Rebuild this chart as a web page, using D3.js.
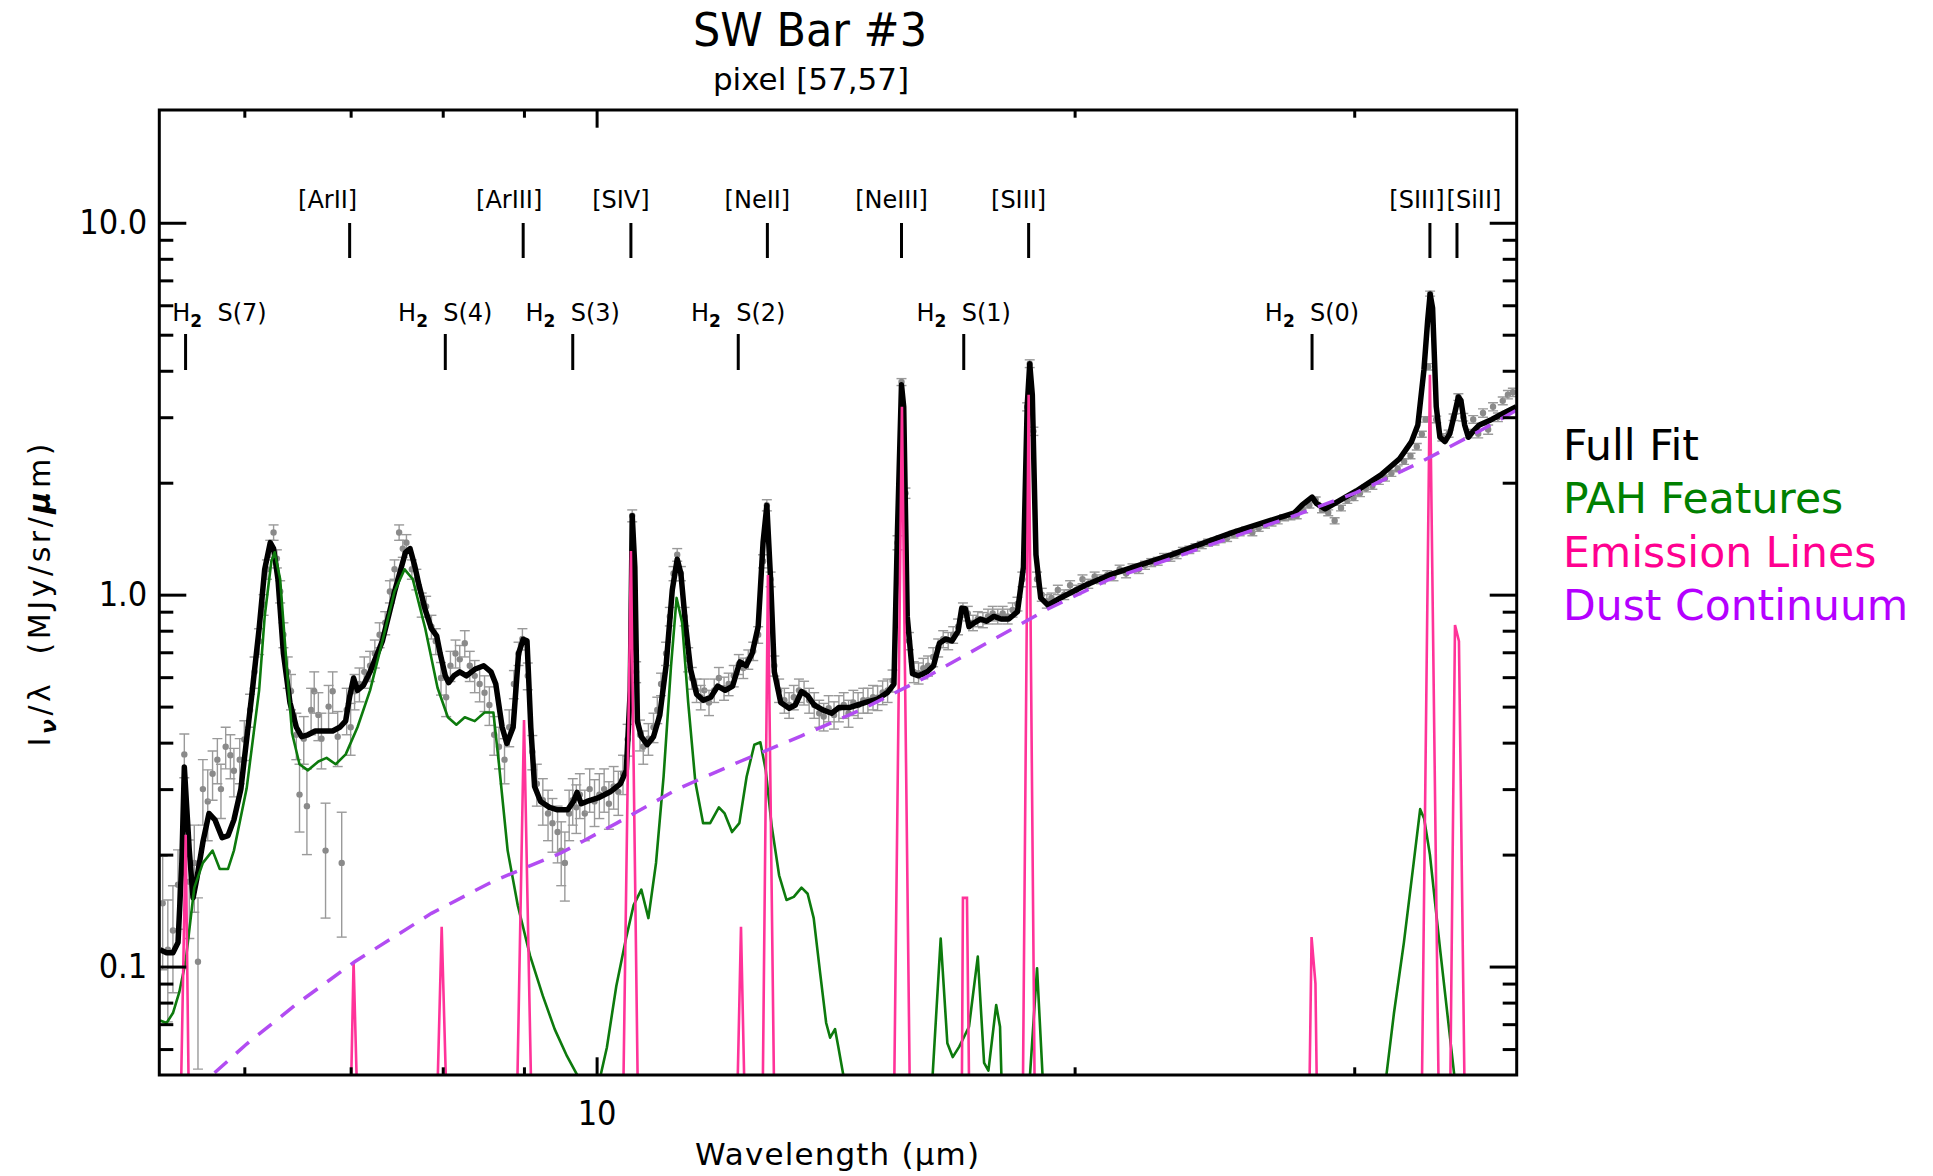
<!DOCTYPE html>
<html>
<head>
<meta charset="utf-8">
<script src="https://cdn.jsdelivr.net/npm/d3@7"></script>
<style>
  body { margin: 0; background: #fff; }
</style>
</head>
<body>
<div id="chart"></div>
<script>
// ---- values (wavelength in micron, I_nu/lambda in MJy/sr/micron) ----

// observed spectrum: [wavelength, flux, error]
const observed = [
  [5.33,0.148,0.05],[5.37,0.111,0.04],[5.41,0.125,0.04],[5.45,0.166,0.04],[5.50,0.372,0.05],[5.54,0.169,0.05],
  [5.58,0.19,0.05],[5.61,0.103,0.05],[5.65,0.30,0.06],[5.69,0.278,0.06],[5.73,0.33,0.05],[5.77,0.36,0.05],
  [5.80,0.30,0.05],[5.84,0.39,0.05],[5.88,0.37,0.05],[5.91,0.336,0.05],[5.96,0.36,0.05],[6.00,0.408,0.05],
  [6.05,0.49,0.05],[6.09,0.62,0.06],[6.13,0.75,0.06],[6.17,0.94,0.06],[6.20,1.17,0.07],[6.23,1.33,0.07],
  [6.26,1.47,0.07],[6.29,1.25,0.07],[6.32,1.02,0.07],[6.35,0.78,0.06],[6.39,0.62,0.06],[6.42,0.55,0.06],
  [6.47,0.42,0.06],[6.50,0.29,0.06],[6.54,0.41,0.06],[6.57,0.27,0.07],[6.61,0.49,0.07],[6.64,0.55,0.07],
  [6.68,0.475,0.07],[6.71,0.41,0.07],[6.75,0.205,0.07],[6.78,0.50,0.07],[6.82,0.55,0.07],[6.87,0.415,0.07],
  [6.91,0.19,0.07],[6.96,0.49,0.07],[7.00,0.44,0.07],[7.04,0.55,0.06],[7.09,0.575,0.06],[7.14,0.62,0.06],
  [7.20,0.644,0.06],[7.25,0.695,0.06],[7.30,0.78,0.06],[7.36,0.84,0.06],[7.41,1.02,0.07],[7.46,1.17,0.07],
  [7.51,1.47,0.07],[7.55,1.33,0.07],[7.59,1.38,0.07],[7.65,1.17,0.07],[7.70,1.10,0.07],[7.76,0.94,0.07],
  [7.81,0.93,0.06],[7.87,0.82,0.06],[7.92,0.75,0.06],[7.98,0.597,0.06],[8.04,0.53,0.06],[8.09,0.644,0.06],
  [8.15,0.695,0.06],[8.20,0.67,0.06],[8.26,0.74,0.06],[8.32,0.644,0.06],[8.38,0.605,0.06],[8.44,0.575,0.06],
  [8.50,0.545,0.06],[8.56,0.505,0.06],[8.62,0.42,0.05],[8.68,0.39,0.05],[8.75,0.36,0.05],[8.81,0.44,0.05],
  [8.87,0.575,0.05],[8.93,0.695,0.05],[8.98,0.76,0.05],[9.05,0.605,0.05],[9.11,0.378,0.04],[9.17,0.31,0.04],
  [9.25,0.28,0.04],[9.32,0.258,0.04],[9.38,0.243,0.04],[9.45,0.23,0.04],[9.50,0.205,0.04],[9.55,0.19,0.04],
  [9.61,0.258,0.04],[9.66,0.28,0.04],[9.71,0.268,0.04],[9.76,0.29,0.04],[9.83,0.258,0.04],[9.90,0.30,0.04],
  [9.97,0.278,0.04],[10.04,0.29,0.04],[10.11,0.30,0.04],[10.18,0.274,0.04],[10.25,0.305,0.04],[10.32,0.295,0.04],
  [10.39,0.33,0.04],[10.46,0.408,0.04],[10.53,1.63,0.06],[10.59,0.62,0.04],[10.65,0.42,0.04],[10.70,0.39,0.04],
  [10.78,0.41,0.04],[10.86,0.44,0.04],[10.92,0.49,0.04],[10.98,0.575,0.04],[11.06,0.695,0.05],[11.12,0.874,0.05],
  [11.18,1.14,0.05],[11.24,1.28,0.05],[11.30,1.14,0.05],[11.36,0.874,0.05],[11.42,0.67,0.05],[11.48,0.597,0.04],
  [11.56,0.553,0.04],[11.63,0.53,0.04],[11.69,0.553,0.04],[11.77,0.513,0.04],[11.86,0.553,0.04],[11.94,0.597,0.04],
  [12.03,0.56,0.04],[12.11,0.575,0.04],[12.20,0.605,0.04],[12.29,0.65,0.04],[12.37,0.635,0.04],[12.46,0.67,0.04],
  [12.55,0.705,0.04],[12.64,0.78,0.04],[12.73,1.23,0.05],[12.80,1.74,0.06],[12.87,1.10,0.05],[12.94,0.644,0.04],
  [13.03,0.553,0.04],[13.13,0.52,0.04],[13.22,0.505,0.04],[13.31,0.53,0.04],[13.41,0.553,0.04],[13.51,0.545,0.04],
  [13.61,0.52,0.04],[13.71,0.505,0.04],[13.81,0.48,0.04],[13.90,0.47,0.04],[14.00,0.495,0.04],[14.11,0.475,0.04],
  [14.21,0.495,0.04],[14.31,0.505,0.04],[14.41,0.48,0.04],[14.51,0.513,0.04],[14.61,0.505,0.04],[14.72,0.52,0.04],
  [14.82,0.52,0.04],[14.93,0.53,0.04],[15.03,0.528,0.04],[15.14,0.546,0.04],[15.25,0.553,0.04],[15.36,0.587,0.04],
  [15.47,1.38,0.06],[15.56,3.73,0.08],[15.65,1.875,0.06],[15.73,0.751,0.04],[15.84,0.62,0.04],[15.95,0.615,0.04],
  [16.06,0.634,0.04],[16.17,0.644,0.04],[16.29,0.68,0.04],[16.41,0.72,0.04],[16.53,0.76,0.04],[16.65,0.751,0.04],
  [16.77,0.78,0.04],[16.89,0.82,0.04],[17.01,0.91,0.04],[17.13,0.89,0.04],[17.26,0.84,0.04],[17.38,0.86,0.04],
  [17.51,0.855,0.04],[17.64,0.874,0.04],[17.76,0.89,0.04],[17.89,0.874,0.04],[18.02,0.89,0.04],[18.15,0.874,0.04],
  [18.28,0.91,0.04],[18.41,0.944,0.04],[18.54,1.10,0.05],[18.67,3.20,0.08],[18.74,4.18,0.1],[18.84,2.75,0.07],
  [18.94,1.10,0.05],[19.07,1.00,0.04],[19.21,0.96,0.04],
  [19.34,0.98,0.03],[19.52,1.03,0.03],[19.70,1.00,0.03],[19.87,1.06,0.03],[20.05,1.03,0.03],[20.23,1.10,0.03],
  [20.40,1.07,0.03],[20.59,1.12,0.03],[20.78,1.10,0.03],[20.97,1.13,0.03],[21.16,1.12,0.03],[21.35,1.17,0.03],
  [21.55,1.14,0.03],[21.75,1.18,0.03],[21.95,1.17,0.03],[22.15,1.20,0.03],[22.35,1.22,0.03],[22.56,1.23,0.03],
  [22.77,1.26,0.03],[22.98,1.26,0.03],[23.19,1.28,0.03],[23.40,1.31,0.03],[23.62,1.32,0.03],[23.83,1.34,0.03],
  [24.05,1.36,0.03],[24.27,1.38,0.03],[24.50,1.39,0.03],[24.72,1.41,0.03],[24.95,1.42,0.03],[25.18,1.45,0.03],
  [25.41,1.47,0.03],[25.65,1.49,0.03],[25.88,1.47,0.03],[26.12,1.51,0.03],[26.36,1.54,0.03],[26.61,1.56,0.03],
  [26.85,1.58,0.03],[27.10,1.61,0.03],[27.35,1.62,0.03],[27.60,1.63,0.03],[27.86,1.69,0.03],[28.11,1.74,0.03],
  [28.37,1.80,0.03],[28.63,1.69,0.03],[28.89,1.66,0.03],[29.16,1.58,0.03],[29.43,1.71,0.03],[29.70,1.79,0.03],
  [29.97,1.82,0.03],[30.25,1.875,0.04],[30.52,1.93,0.04],[30.80,1.96,0.04],[31.09,2.02,0.04],[31.37,2.06,0.04],
  [31.66,2.12,0.04],[31.95,2.18,0.04],[32.25,2.28,0.04],[32.55,2.36,0.04],[32.85,2.50,0.05],[33.09,2.70,0.05],
  [33.27,2.96,0.05],[33.40,4.10,0.08],[33.49,6.45,0.1],[33.79,2.96,0.06],[34.09,2.65,0.06],[34.40,2.71,0.06],
  [34.65,3.0,0.06],[34.89,3.40,0.07],[35.14,3.0,0.07],[35.40,2.71,0.07],[35.65,2.96,0.07],[35.91,2.71,0.07],
  [36.16,3.08,0.08],[36.43,2.78,0.08],[36.69,3.20,0.08],[36.95,3.0,0.08],[37.21,3.32,0.08],[37.49,3.45,0.09],
  [37.76,3.50,0.09]
];

// full fit
const fullFit = [
  [5.31,0.111],[5.36,0.109],[5.41,0.109],[5.45,0.116],[5.48,0.190],[5.50,0.344],[5.54,0.205],[5.57,0.153],
  [5.60,0.172],[5.65,0.216],[5.70,0.258],[5.75,0.248],[5.81,0.222],[5.86,0.225],[5.91,0.248],[5.97,0.300],
  [6.02,0.408],[6.07,0.553],[6.13,0.810],[6.18,1.17],[6.23,1.38],[6.26,1.33],[6.30,1.10],[6.35,0.695],
  [6.41,0.513],[6.47,0.440],[6.52,0.415],[6.58,0.42],[6.65,0.43],[6.72,0.43],[6.82,0.43],[6.89,0.44],
  [6.95,0.458],[6.99,0.532],[7.03,0.597],[7.07,0.553],[7.13,0.57],[7.20,0.62],[7.33,0.751],[7.46,1.018],
  [7.58,1.30],[7.63,1.33],[7.68,1.20],[7.73,1.06],[7.80,0.91],[7.87,0.810],[7.93,0.775],[7.97,0.695],
  [8.03,0.605],[8.07,0.58],[8.13,0.605],[8.20,0.62],[8.28,0.605],[8.38,0.63],[8.49,0.644],[8.58,0.62],
  [8.64,0.575],[8.72,0.440],[8.78,0.398],[8.86,0.440],[8.93,0.695],[8.99,0.758],[9.04,0.751],[9.09,0.440],
  [9.14,0.305],[9.22,0.278],[9.34,0.268],[9.45,0.264],[9.59,0.264],[9.67,0.278],[9.72,0.294],[9.78,0.274],
  [9.86,0.278],[10.02,0.284],[10.20,0.295],[10.35,0.31],[10.44,0.337],[10.50,0.553],[10.53,1.63],[10.57,1.186],
  [10.61,0.456],[10.67,0.415],[10.76,0.395],[10.86,0.415],[10.96,0.475],[11.06,0.644],[11.16,1.03],[11.24,1.245],
  [11.30,1.14],[11.38,0.82],[11.46,0.63],[11.56,0.54],[11.67,0.52],[11.80,0.53],[11.92,0.568],[12.05,0.553],
  [12.18,0.568],[12.31,0.66],[12.42,0.644],[12.53,0.695],[12.64,0.82],[12.73,1.38],[12.80,1.738],[12.87,1.099],
  [12.94,0.62],[13.06,0.513],[13.22,0.495],[13.34,0.505],[13.46,0.549],[13.58,0.535],[13.71,0.505],[13.88,0.49],
  [14.06,0.48],[14.21,0.497],[14.42,0.497],[14.60,0.505],[14.77,0.513],[15.03,0.524],[15.25,0.546],[15.39,0.575],
  [15.47,1.492],[15.56,3.67],[15.61,3.20],[15.69,0.874],[15.81,0.613],[15.95,0.605],[16.15,0.62],[16.30,0.644],
  [16.44,0.74],[16.59,0.76],[16.74,0.751],[16.89,0.797],[16.98,0.92],[17.07,0.917],[17.16,0.82],[17.29,0.84],
  [17.45,0.86],[17.60,0.848],[17.79,0.874],[17.98,0.86],[18.18,0.86],[18.41,0.90],[18.57,1.186],[18.67,3.20],
  [18.74,4.18],[18.81,3.45],[18.91,1.28],[19.04,0.98],[19.24,0.937],[19.59,0.98],[20.30,1.058],[21.04,1.13],
  [23.00,1.28],[25.16,1.47],[27.51,1.66],[27.81,1.74],[28.22,1.83],[28.40,1.76],[28.76,1.70],[30.09,1.90],
  [31.19,2.10],[32.04,2.32],[32.60,2.58],[32.90,2.86],[33.19,4.02],[33.37,5.45],[33.49,6.43],[33.61,5.9],
  [33.79,3.20],[33.97,2.65],[34.22,2.58],[34.46,2.71],[34.71,3.08],[34.89,3.40],[35.02,3.33],[35.21,2.86],
  [35.40,2.65],[35.65,2.75],[35.97,2.86],[36.62,2.96],[37.27,3.08],[37.95,3.20]
];

// PAH features (drops below the plot floor between complexes)
const pahFeatures = [
  [5.31,0.0716],[5.36,0.0705],[5.41,0.075],[5.46,0.0853],[5.51,0.103],[5.58,0.163],[5.65,0.190],[5.73,0.205],
  [5.79,0.183],[5.86,0.183],[5.91,0.205],[6.02,0.301],[6.13,0.553],[6.18,0.875],[6.24,1.23],[6.27,1.30],
  [6.32,1.10],[6.38,0.644],[6.43,0.424],[6.50,0.350],[6.58,0.337],[6.68,0.356],[6.76,0.364],[6.85,0.350],
  [6.95,0.372],[7.07,0.440],[7.20,0.553],[7.33,0.750],[7.46,1.02],[7.57,1.17],[7.66,1.10],[7.80,0.811],
  [7.94,0.562],[8.06,0.468],[8.16,0.447],[8.26,0.468],[8.38,0.457],[8.50,0.482],[8.61,0.482],[8.68,0.350],
  [8.79,0.205],[8.92,0.146],[9.08,0.107],[9.25,0.0834],[9.41,0.0679],[9.58,0.0574],[9.72,0.0512],[9.79,0.045],
  [9.98,0.045],[10.06,0.0512],[10.15,0.0606],[10.29,0.0887],[10.44,0.120],[10.55,0.146],[10.67,0.161],[10.78,0.135],
  [10.90,0.190],[11.02,0.324],[11.14,0.644],[11.23,0.98],[11.32,0.841],[11.42,0.513],[11.54,0.313],[11.67,0.243],
  [11.79,0.243],[11.94,0.268],[12.04,0.258],[12.17,0.230],[12.30,0.243],[12.43,0.324],[12.57,0.395],[12.68,0.401],
  [12.78,0.337],[12.89,0.239],[13.03,0.176],[13.17,0.151],[13.31,0.154],[13.46,0.163],[13.58,0.157],[13.70,0.135],
  [13.83,0.0957],[13.95,0.0705],[14.03,0.0644],[14.13,0.0679],[14.20,0.0606],[14.30,0.0512],[14.36,0.045],
  [16.25,0.045],[16.47,0.119],[16.63,0.0622],[16.76,0.0571],[16.92,0.0609],[17.16,0.0689],[17.38,0.1064],
  [17.54,0.0551],[17.65,0.0525],[17.85,0.0788],[17.95,0.0689],[18.00,0.045],[18.71,0.045],[18.94,0.099],
  [19.12,0.045],[31.32,0.045],[31.78,0.075],[32.24,0.116],[32.70,0.19],[33.01,0.265],[33.20,0.25],[33.48,0.2],
  [33.98,0.111],[34.80,0.045]
];

// emission line component, one spike per line
const emissionLines = [
  [[5.470,0.04],[5.511,0.226],[5.537,0.04]],
  [[6.999,0.04],[7.030,0.103],[7.071,0.04]],
  [[7.932,0.04],[7.988,0.128],[8.048,0.04]],
  [[8.907,0.04],[9.001,0.46],[9.101,0.04]],
  [[10.39,0.04],[10.51,1.31],[10.62,0.04]],
  [[12.257,0.04],[12.329,0.128],[12.40,0.04]],
  [[12.72,0.04],[12.82,1.13],[12.94,0.04]],
  [[15.39,0.04],[15.57,3.2],[15.755,0.04]],
  [[16.98,0.04],[17.01,0.153],[17.11,0.153],[17.17,0.04]],
  [[18.55,0.04],[18.71,3.45],[18.88,0.04]],
  [[28.10,0.04],[28.20,0.120],[28.36,0.090],[28.43,0.04]],
  [[33.08,0.04],[33.48,3.90],[33.92,0.04]],
  [[34.47,0.04],[34.72,0.829],[34.92,0.75],[35.22,0.04]]
];

// dust continuum
const dustContinuum = [
  [5.60,0.045],[5.712,0.0506],[6.020,0.0619],[6.465,0.0790],[7.045,0.1032],[7.870,0.1390],[8.606,0.1696],
  [9.495,0.2020],[10.29,0.2427],[11.25,0.3004],[12.30,0.3554],[13.46,0.4172],[14.72,0.4934],[16.09,0.597],
  [17.59,0.739],[19.24,0.915],[21.04,1.10],[23.00,1.25],[25.16,1.43],[27.51,1.63],[30.08,1.88],[32.89,2.25],
  [35.96,2.75],[37.95,3.13]
];

// line identifications
const ionNames = ['[ArII]', '[ArIII]', '[SIV]', '[NeII]', '[NeIII]', '[SIII]', '[SIII]', '[SiII]'];
const ionWaves = [6.99, 8.99, 10.51, 12.81, 15.56, 18.71, 33.48, 34.82];
const h2Names = ['S(7)', 'S(4)', 'S(3)', 'S(2)', 'S(1)', 'S(0)'];
const h2Waves = [5.51, 8.03, 9.66, 12.28, 17.03, 28.22];

// ticks
const xMajorTicks = [10];
const xTickLabels = ['10'];
const xMinorTicks = [6, 7, 8, 9, 20, 30];
const yMajorTicks = [0.1, 1, 10];
const yTickLabels = ['0.1', '1.0', '10.0'];
const yMinorTicks = [0.06, 0.07, 0.08, 0.09, 0.2, 0.3, 0.4, 0.5, 0.6, 0.7, 0.8, 0.9, 2, 3, 4, 5, 6, 7, 8, 9];

const legendNames = ['Full Fit', 'PAH Features', 'Emission Lines', 'Dust Continuum'];

// ---- drawing ----
const W = 1933, H = 1176;
const plot = { left: 159.3, right: 1516.7, top: 110, bottom: 1075 };
const colors = { fit: '#000', pah: '#0d7a0d', lines: '#ff3399', dust: '#b24cf2', data: '#8a8a8a' };
const legendColors = ['#000', '#008000', '#ff0090', '#b400ff'];

const svg = d3.select('#chart').append('svg')
    .attr('width', W)
    .attr('height', H)
    .style('font-family', '"DejaVu Sans", sans-serif');

svg.append('rect').attr('width', W).attr('height', H).attr('fill', '#fff');

const x = d3.scaleLog().domain([5.304, 37.97]).range([plot.left, plot.right]);
const y = d3.scaleLog().domain([0.0511, 20.1]).range([plot.bottom, plot.top]);

svg.append('defs').append('clipPath')
    .attr('id', 'plotClip')
    .append('rect')
    .attr('x', plot.left)
    .attr('y', plot.top)
    .attr('width', plot.right - plot.left)
    .attr('height', plot.bottom - plot.top);

const layer = svg.append('g').attr('clip-path', 'url(#plotClip)');

// data points with error bars
const pts = layer.append('g').attr('class', 'data');
const cap = 5;
observed.forEach(d => {
    const cx = x(d[0]);
    const y1 = y(d[1] + d[2]);
    const y2 = y(Math.max(d[1] - d[2], 0.001));
    pts.append('line').attr('x1', cx).attr('x2', cx).attr('y1', y1).attr('y2', y2)
        .attr('stroke', '#9a9a9a').attr('stroke-width', 1.4);
    [y1, y2].forEach(yy => {
        pts.append('line').attr('x1', cx - cap).attr('x2', cx + cap).attr('y1', yy).attr('y2', yy)
            .attr('stroke', '#9a9a9a').attr('stroke-width', 1.4);
    });
    pts.append('circle').attr('cx', cx).attr('cy', y(d[1])).attr('r', 3.2).attr('fill', colors.data);
});

const line = d3.line().x(d => x(d[0])).y(d => y(d[1]));

layer.append('path').datum(fullFit)
    .attr('d', line).attr('fill', 'none')
    .attr('stroke', colors.fit).attr('stroke-width', 5.5).attr('stroke-linejoin', 'round');

layer.append('path').datum(pahFeatures)
    .attr('d', line).attr('fill', 'none')
    .attr('stroke', colors.pah).attr('stroke-width', 2.6).attr('stroke-linejoin', 'round');

layer.selectAll('.emline').data(emissionLines).enter()
    .append('path')
    .attr('class', 'emline')
    .attr('d', line).attr('fill', 'none')
    .attr('stroke', colors.lines).attr('stroke-width', 2.6);

layer.append('path').datum(dustContinuum)
    .attr('d', line).attr('fill', 'none')
    .attr('stroke', colors.dust).attr('stroke-width', 3.5)
    .attr('stroke-dasharray', '17,12');

// axes: ticks point inward on all four sides
function styleAxis(g) {
    g.select('.domain').remove();
    g.selectAll('.tick line').attr('stroke', '#000').attr('stroke-width', 3);
    g.selectAll('.tick text')
        .attr('fill', '#000')
        .style('font-family', '"Liberation Sans Narrow", "DejaVu Sans Condensed", sans-serif')
        .style('font-size', '34px');
}

svg.append('g').attr('transform', `translate(0,${plot.bottom})`)
    .call(d3.axisBottom(x).tickValues(xMajorTicks).tickSize(-17.7).tickSizeOuter(0)
        .tickPadding(26).tickFormat((d, i) => xTickLabels[i]))
    .call(styleAxis);
svg.append('g').attr('transform', `translate(0,${plot.bottom})`)
    .call(d3.axisBottom(x).tickValues(xMinorTicks).tickSize(-7.7).tickSizeOuter(0).tickFormat(''))
    .call(styleAxis);
svg.append('g').attr('transform', `translate(0,${plot.top})`)
    .call(d3.axisTop(x).tickValues(xMajorTicks).tickSize(-17.7).tickSizeOuter(0).tickFormat(''))
    .call(styleAxis);
svg.append('g').attr('transform', `translate(0,${plot.top})`)
    .call(d3.axisTop(x).tickValues(xMinorTicks).tickSize(-7.7).tickSizeOuter(0).tickFormat(''))
    .call(styleAxis);

svg.append('g').attr('transform', `translate(${plot.left},0)`)
    .call(d3.axisLeft(y).tickValues(yMajorTicks).tickSize(-27).tickSizeOuter(0)
        .tickPadding(12).tickFormat((d, i) => yTickLabels[i]))
    .call(styleAxis);
svg.append('g').attr('transform', `translate(${plot.left},0)`)
    .call(d3.axisLeft(y).tickValues(yMinorTicks).tickSize(-14).tickSizeOuter(0).tickFormat(''))
    .call(styleAxis);
svg.append('g').attr('transform', `translate(${plot.right},0)`)
    .call(d3.axisRight(y).tickValues(yMajorTicks).tickSize(-27).tickSizeOuter(0).tickFormat(''))
    .call(styleAxis);
svg.append('g').attr('transform', `translate(${plot.right},0)`)
    .call(d3.axisRight(y).tickValues(yMinorTicks).tickSize(-14).tickSizeOuter(0).tickFormat(''))
    .call(styleAxis);

// frame
svg.append('rect')
    .attr('x', plot.left).attr('y', plot.top)
    .attr('width', plot.right - plot.left).attr('height', plot.bottom - plot.top)
    .attr('fill', 'none').attr('stroke', '#000').attr('stroke-width', 3);

// line identification markers
const ids = svg.append('g').attr('class', 'line-ids').style('font-size', '24px');
const ionShift = { '6.99': -22, '8.99': -14, '33.48': -13, '34.82': 17 };
ionWaves.forEach((w, i) => {
    const px = x(w);
    ids.append('line').attr('x1', px).attr('x2', px).attr('y1', 223).attr('y2', 258)
        .attr('stroke', '#000').attr('stroke-width', 3);
    ids.append('text')
        .attr('x', px + (ionShift[String(w)] !== undefined ? ionShift[String(w)] : -10))
        .attr('y', 208)
        .attr('text-anchor', 'middle')
        .text(ionNames[i]);
});
h2Waves.forEach((w, i) => {
    const px = x(w);
    ids.append('line').attr('x1', px).attr('x2', px).attr('y1', 334).attr('y2', 370)
        .attr('stroke', '#000').attr('stroke-width', 3);
    const t = ids.append('text')
        .attr('x', i === 0 ? plot.left + 13 : px)
        .attr('y', 321)
        .attr('text-anchor', i === 0 ? 'start' : 'middle');
    t.append('tspan').text('H');
    t.append('tspan').attr('dy', 6).style('font-size', '17px').style('font-weight', 'bold').text('2');
    t.append('tspan').attr('dy', -6).text('\u00a0\u00a0' + h2Names[i]);
});

// titles
svg.append('text')
    .attr('x', 810).attr('y', 46)
    .attr('text-anchor', 'middle')
    .attr('textLength', 234).attr('lengthAdjust', 'spacingAndGlyphs')
    .style('font-size', '46px')
    .text('SW Bar #3');
svg.append('text')
    .attr('x', 811).attr('y', 90)
    .attr('text-anchor', 'middle')
    .style('font-size', '31px')
    .text('pixel [57,57]');

svg.append('text')
    .attr('x', 837).attr('y', 1165)
    .attr('text-anchor', 'middle')
    .attr('textLength', 284)
    .style('font-size', '31px')
    .text('Wavelength (\u03bcm)');

const yl = svg.append('text')
    .attr('transform', 'translate(50,595) rotate(-90)')
    .attr('text-anchor', 'middle')
    .attr('textLength', 303)
    .style('font-size', '30px');
yl.append('tspan').text('I');
yl.append('tspan').attr('dy', 6).style('font-size', '22px').style('font-style', 'italic').style('font-weight', 'bold').text('\u03bd');
yl.append('tspan').attr('dy', -6).text('/\u03bb\u00a0\u00a0(MJy/sr/');
yl.append('tspan').style('font-style', 'italic').style('font-weight', 'bold').text('\u03bc');
yl.append('tspan').text('m)');

// legend
legendNames.forEach((name, i) => {
    svg.append('text')
        .attr('x', 1563)
        .attr('y', 460 + i * 53.3)
        .attr('fill', legendColors[i])
        .style('font-size', '42.5px')
        .text(name);
});
</script>
</body>
</html>
